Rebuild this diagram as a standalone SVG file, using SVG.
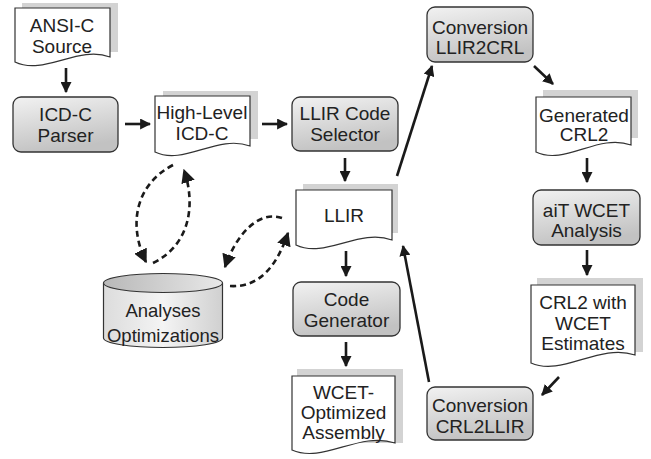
<svg xmlns="http://www.w3.org/2000/svg" width="651" height="459" viewBox="0 0 651 459">
<style>
.box{fill:url(#boxg);stroke:#333;stroke-width:1.3}
.doc{fill:#fff;stroke:#333;stroke-width:1.2}
.sh{fill:#d3d3d3}
.t{font-family:"Liberation Sans",Arial,sans-serif;font-size:19px;fill:#222;text-anchor:middle}
.a{fill:none;stroke:#1a1a1a;stroke-width:2.6}
.d{fill:none;stroke:#1a1a1a;stroke-width:2.6;stroke-dasharray:6 4}
</style>
<defs>
<linearGradient id="boxg" x1="0" y1="0" x2="0.3" y2="1">
<stop offset="0" stop-color="#f2f2f2"/>
<stop offset="1" stop-color="#c2c2c2"/>
</linearGradient>
<linearGradient id="cylb" x1="0" y1="0" x2="1" y2="0">
<stop offset="0" stop-color="#dcdcdc"/>
<stop offset="0.5" stop-color="#f4f4f4"/>
<stop offset="1" stop-color="#d0d0d0"/>
</linearGradient>
<linearGradient id="cylt" x1="0" y1="0" x2="1" y2="0">
<stop offset="0" stop-color="#b8b8b8"/>
<stop offset="1" stop-color="#e8e8e8"/>
</linearGradient>
<marker id="ah" viewBox="0 0 10 10" refX="9" refY="5" markerWidth="11" markerHeight="11" markerUnits="userSpaceOnUse" orient="auto">
<path d="M0,0 L10,5 L0,10 Z" fill="#1a1a1a"/>
</marker>
<marker id="dh" viewBox="0 0 10 10" refX="9" refY="5" markerWidth="14" markerHeight="14" markerUnits="userSpaceOnUse" orient="auto">
<path d="M0,0 L10,5 L0,10 Z" fill="#1a1a1a"/>
</marker>
</defs>

<g id="ansi">
<rect class="sh" x="22" y="3" width="96" height="49"/>
<path class="doc" d="M15,8 H110 V57 C78,45 44,76 15,62 Z"/>
<text class="t" x="62" y="32">ANSI-C</text>
<text class="t" x="62" y="53">Source</text>
</g>

<g id="parser">
<rect class="box" x="13" y="97" width="105" height="55" rx="8"/>
<text class="t" x="65.5" y="121">ICD-C</text>
<text class="t" x="65.5" y="142">Parser</text>
</g>

<g id="highlevel">
<rect class="sh" x="163" y="91" width="95" height="48"/>
<path class="doc" d="M155,96 H250 V146 C217,134 184,166 155,152 Z"/>
<text class="t" x="202" y="119">High-Level</text>
<text class="t" x="202" y="140">ICD-C</text>
</g>

<g id="selector">
<rect class="box" x="292" y="97" width="106" height="54" rx="8"/>
<text class="t" x="345" y="120">LLIR Code</text>
<text class="t" x="345" y="141">Selector</text>
</g>

<g id="llir">
<rect class="sh" x="303" y="184" width="95" height="49"/>
<path class="doc" d="M296,190 H392 V240 C359,228 325,259 296,245 Z"/>
<text class="t" x="344" y="222">LLIR</text>
</g>

<g id="codegen">
<rect class="box" x="293" y="282" width="107" height="54" rx="8"/>
<text class="t" x="346.5" y="306">Code</text>
<text class="t" x="346.5" y="327">Generator</text>
</g>

<g id="wcetopt">
<rect class="sh" x="297" y="369" width="106" height="74"/>
<path class="doc" d="M292,376 H395 V443 C359,431 323,464 292,450 Z"/>
<text class="t" x="343.5" y="399">WCET-</text>
<text class="t" x="343.5" y="419">Optimized</text>
<text class="t" x="343.5" y="439">Assembly</text>
</g>

<g id="analyses">
<path d="M103.5,283 V338 A59.5,9.5 0 0 0 222.5,338 V283" fill="url(#cylb)" stroke="#333" stroke-width="1.2"/>
<ellipse cx="163" cy="283" rx="59.5" ry="9.5" fill="url(#cylt)" stroke="#333" stroke-width="1.2"/>
<text class="t" x="163" y="317" style="font-size:18.5px">Analyses</text>
<text class="t" x="163" y="342" style="font-size:18.5px">Optimizations</text>
</g>

<g id="conv1">
<rect class="box" x="427" y="7" width="106" height="55" rx="8"/>
<text class="t" x="480" y="34">Conversion</text>
<text class="t" x="480" y="54">LLIR2CRL</text>
</g>

<g id="generated">
<rect class="sh" x="543" y="90" width="95" height="48"/>
<path class="doc" d="M536,97 H631 V145 C598,133 565,166 536,152 Z"/>
<text class="t" x="584" y="122">Generated</text>
<text class="t" x="584" y="141">CRL2</text>
</g>

<g id="ait">
<rect class="box" x="533" y="190" width="107" height="55" rx="8"/>
<text class="t" x="586.5" y="217">aiT WCET</text>
<text class="t" x="586.5" y="237">Analysis</text>
</g>

<g id="crl2wcet">
<rect class="sh" x="537" y="278" width="106" height="74"/>
<path class="doc" d="M531,285 H635 V355 C599,343 562,377 531,363 Z"/>
<text class="t" x="583" y="309">CRL2 with</text>
<text class="t" x="583" y="330">WCET</text>
<text class="t" x="583" y="350">Estimates</text>
</g>

<g id="conv2">
<rect class="box" x="427" y="387" width="106" height="53" rx="8"/>
<text class="t" x="480" y="412">Conversion</text>
<text class="t" x="480" y="433">CRL2LLIR</text>
</g>

<g id="connectors">
<line class="a" x1="66" y1="68" x2="66" y2="92" marker-end="url(#ah)"/>
<line class="a" x1="125" y1="124" x2="150" y2="124" marker-end="url(#ah)"/>
<line class="a" x1="262" y1="124" x2="287" y2="124" marker-end="url(#ah)"/>
<line class="a" x1="345" y1="158" x2="345" y2="181" marker-end="url(#ah)"/>
<line class="a" x1="346" y1="251" x2="346" y2="276" marker-end="url(#ah)"/>
<line class="a" x1="346" y1="342" x2="346" y2="366" marker-end="url(#ah)"/>
<line class="a" x1="397" y1="176" x2="432" y2="66" marker-end="url(#ah)"/>
<line class="a" x1="534" y1="66" x2="553" y2="84" marker-end="url(#ah)"/>
<line class="a" x1="587" y1="158" x2="587" y2="182" marker-end="url(#ah)"/>
<line class="a" x1="587" y1="250" x2="587" y2="275" marker-end="url(#ah)"/>
<line class="a" x1="559" y1="377" x2="542" y2="395" marker-end="url(#ah)"/>
<line class="a" x1="429" y1="382" x2="403" y2="246" marker-end="url(#ah)"/>
<path class="d" d="M173,165 C135,185 128,225 146,262" marker-end="url(#dh)"/>
<path class="d" d="M153,263 C190,245 196,205 184,170" marker-end="url(#dh)"/>
<path class="d" d="M282,218 C258,210 236,235 225,267" marker-end="url(#dh)"/>
<path class="d" d="M230,286 C262,288 278,262 288,233" marker-end="url(#dh)"/>
</g>
</svg>
